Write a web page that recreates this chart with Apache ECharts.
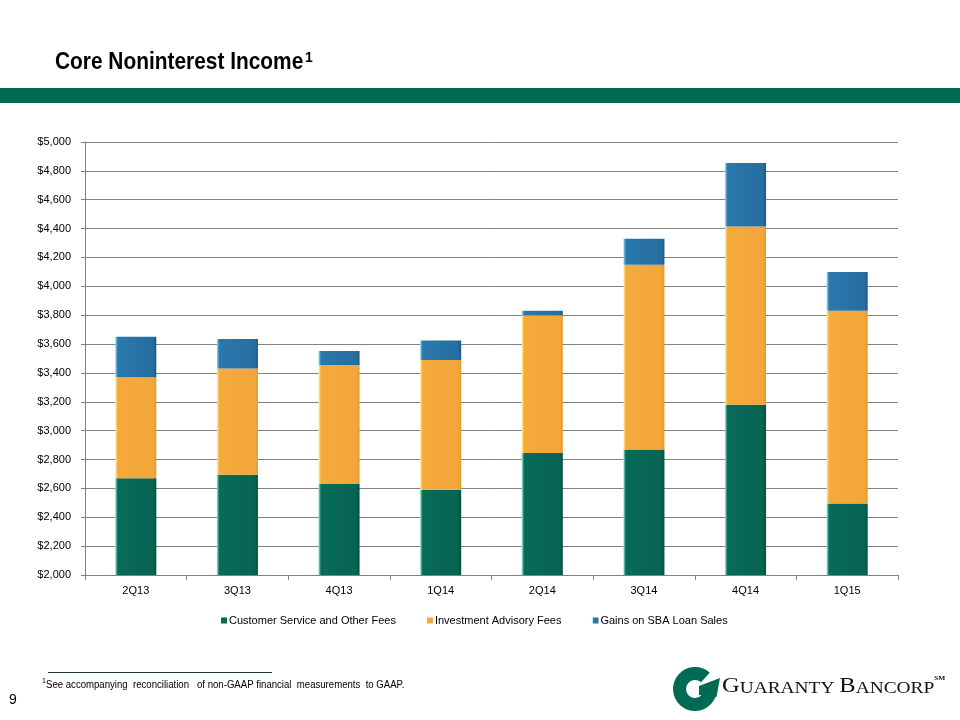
<!DOCTYPE html>
<html>
<head>
<meta charset="utf-8">
<script src="https://cdn.jsdelivr.net/npm/echarts@6/dist/echarts.min.js"></script>
<style>
html,body{margin:0;padding:0;background:#fff;}
#c{width:960px;height:720px;}
</style>
</head>
<body>
<div id="c"></div>
<script>
var categories = ['2Q13','3Q13','4Q13','1Q14','2Q14','3Q14','4Q14','1Q15'];
var customerServiceFees = [2670, 2695, 2630, 2590, 2845, 2870, 3180, 2495];
var investmentAdvisoryFees = [700, 735, 825, 900, 955, 1280, 1235, 1335];
var sbaLoanGains = [280, 205, 97, 135, 30, 180, 440, 270];
var seriesNames = ['Customer Service and Other Fees', 'Investment Advisory Fees', 'Gains on SBA Loan Sales'];
var yMin = 2000, yMax = 5000, yStep = 200;

function grad(light, main, mainR, dark) {
  return new echarts.graphic.LinearGradient(0, 0, 1, 0, [
    {offset: 0, color: light},
    {offset: 0.06, color: main},
    {offset: 0.92, color: mainR},
    {offset: 1, color: dark}
  ]);
}
var greenC = grad('#8fe3d3', '#086b59', '#066453', '#045041');
var orangeC = grad('#fff09a', '#f5aa3c', '#f3a63a', '#e79a2c');
var blueC = grad('#8fdcf8', '#2a78ac', '#266ea1', '#1b5a86');

var chart = echarts.init(document.getElementById('c'), null, {renderer: 'canvas'});
var baseFont = 'Liberation Sans, Arial, sans-serif';
var gridColor = '#828282';

function bar(name, data, color) {
  return {
    name: name, type: 'bar', stack: 'total', data: data, barWidth: 41,
    itemStyle: {color: color},
    emphasis: {disabled: true}
  };
}

chart.setOption({
  animation: false,
  textStyle: {fontFamily: baseFont},
  grid: {left: 85, right: 62, top: 142, bottom: 145, containLabel: false},
  xAxis: {
    type: 'category', data: categories,
    axisLine: {lineStyle: {color: gridColor, width: 1}},
    axisTick: {show: true, length: 5, lineStyle: {color: gridColor}},
    axisLabel: {color: '#000', fontSize: 11, margin: 10, fontFamily: baseFont}
  },
  yAxis: {
    type: 'value', min: yMin, max: yMax, interval: yStep,
    axisLine: {show: true, lineStyle: {color: gridColor, width: 1}},
    axisTick: {show: true, length: 4, lineStyle: {color: gridColor}},
    splitLine: {lineStyle: {color: gridColor, width: 1}},
    axisLabel: {
      color: '#000', fontSize: 11, margin: 14, fontFamily: baseFont,
      formatter: function (v) { return '$' + v.toLocaleString('en-US'); }
    }
  },
  legend: {
    data: seriesNames, left: 221, top: 615, padding: 0,
    icon: 'rect', itemWidth: 6, itemHeight: 6, itemGap: 31,
    textStyle: {color: '#000', fontSize: 11, fontFamily: baseFont, padding: [0, 0, 0, -3]}
  },
  series: [
    bar(seriesNames[0], customerServiceFees, greenC),
    bar(seriesNames[1], investmentAdvisoryFees, orangeC),
    bar(seriesNames[2], sbaLoanGains, blueC)
  ],
  graphic: [
    {type: 'rect', left: 0, top: 88, shape: {width: 960, height: 15}, style: {fill: '#016a55'}},
    {type: 'group', x: 55, y: 50, scaleX: 0.87, children: [
      {type: 'text', x: 0, y: 0, style: {text: 'Core Noninterest Income', font: 'bold 24px ' + baseFont, fill: '#000', textVerticalAlign: 'top'}}
    ]},
    {type: 'text', x: 305, y: 51, style: {text: '1', font: 'bold 14px ' + baseFont, fill: '#000', textVerticalAlign: 'top'}},
    {type: 'line', shape: {x1: 48, y1: 672.5, x2: 272, y2: 672.5}, style: {stroke: '#1d3b30', lineWidth: 1}},
    {type: 'text', x: 42, y: 678, style: {text: '1', font: '7px ' + baseFont, fill: '#000', textVerticalAlign: 'top'}},
    {type: 'group', x: 46, y: 680, scaleX: 0.96, children: [
      {type: 'text', x: 0, y: 0, style: {text: 'See accompanying  reconciliation   of non-GAAP financial  measurements  to GAAP.', font: '10px ' + baseFont, fill: '#000', textVerticalAlign: 'top'}}
    ]},
    {type: 'text', x: 9, y: 693, style: {text: '9', font: '14px ' + baseFont, fill: '#000', textVerticalAlign: 'top'}},
    {type: 'sector', shape: {cx: 695, cy: 689, r: 22, r0: 9, startAngle: 20 * Math.PI / 180, endAngle: 312 * Math.PI / 180, clockwise: true}, style: {fill: '#016a55'}},
    {type: 'polygon', shape: {points: [[699, 686], [720, 678], [716.5, 697], [699, 695]]}, style: {fill: '#016a55'}},
    {type: 'group', x: 722, y: 675, scaleX: 1.14, children: [
      {type: 'text', x: 0, y: 0, style: {
        text: '{b|G}{s|UARANTY }{b|B}{s|ANCORP}{m|SM}',
        fill: '#111', textVerticalAlign: 'top',
        rich: {
          b: {fontFamily: 'Liberation Serif, serif', fontSize: 21.5, fill: '#111', verticalAlign: 'bottom'},
          s: {fontFamily: 'Liberation Serif, serif', fontSize: 17, fill: '#111', verticalAlign: 'bottom'},
          m: {fontFamily: 'Liberation Serif, serif', fontSize: 6.5, fill: '#111', verticalAlign: 'top', fontWeight: 'bold'}
        }
      }}
    ]}
  ]
});
</script>
</body>
</html>
